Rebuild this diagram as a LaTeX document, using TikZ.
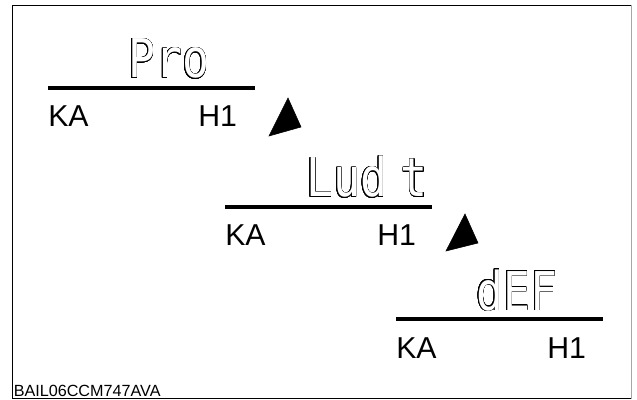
\documentclass[tikz,border=0pt]{standalone}
\usepackage{fontspec}
\setmainfont{Liberation Sans}
\newfontfamily\lcdfont{DejaVu Sans Mono}
\usepackage{contour}
\contourlength{0.6pt}
\contournumber{24}
\usepackage{tikz}
\usetikzlibrary{positioning}

% hollow display letters
\newcommand{\lcdword}[1]{\contour{black}{\textcolor{white}{#1}}}

\tikzset{
    lcd/.style={inner sep=0pt, anchor=base west, xscale=0.84,
        font=\lcdfont\fontsize{38}{40}\selectfont},
    keytext/.style={inner sep=0pt, anchor=base west,
        font=\fontsize{21.5}{24}\selectfont},
    rule/.style={line width=2.2pt},
    pointer/.style={fill=black, draw=black}
}

\begin{document}
\begin{tikzpicture}[x=0.025cm, y=-0.025cm]
    \useasboundingbox (0,0) rectangle (637,400);

    % frame
    \draw[line width=0.8pt] (631.5,398.5) -- (12.5,398.5) -- (12.5,5.5) -- (631.5,5.5);
    \draw[line width=0.8pt, gray!70] (631.5,5.5) -- (631.5,398.5);

    % Step 1: Pro
    \begin{scope}[shift={(48,88)}]
        \coordinate (proL) at (0,0);
        \coordinate (proR) at (207,0);
        \draw[rule] (proL) -- (proR);
        \node[lcd] (pro) at (80,-10) {\lcdword{Pro}};
        \node[keytext] (proka) at (0,39) {KA};
        \node[keytext] (proh) at (150,39) {H1};
        \filldraw[pointer] (221,48) -- (240,10) -- (253,39) -- cycle;
    \end{scope}

    % Step 2: Lud t
    \begin{scope}[shift={(225,207)}]
        \coordinate (ludL) at (0,0);
        \coordinate (ludR) at (207,0);
        \draw[rule] (ludL) -- (ludR);
        \node[lcd] (lud) at (81,-10) {\lcdword{Lud}\hspace{0.3em}\lcdword{t}};
        \node[keytext] (ludka) at (0,38) {KA};
        \node[keytext] (ludh) at (152,38) {H1};
        \filldraw[pointer] (221,44) -- (240,7) -- (253,36) -- cycle;
    \end{scope}

    % Step 3: dEF
    \begin{scope}[shift={(396,319)}]
        \coordinate (defL) at (0,0);
        \coordinate (defR) at (207,0);
        \draw[rule] (defL) -- (defR);
        \node[lcd] (def) at (80,-9) {\lcdword{dEF}};
        \node[keytext] (defka) at (0,39) {KA};
        \node[keytext] (defh) at (151,39) {H1};
    \end{scope}

    \node[inner sep=0pt, anchor=base west, font=\fontsize{11.5}{12}\selectfont] (ref) at (13.5,396) {BAIL06CCM747AVA};
\end{tikzpicture}
\end{document}
